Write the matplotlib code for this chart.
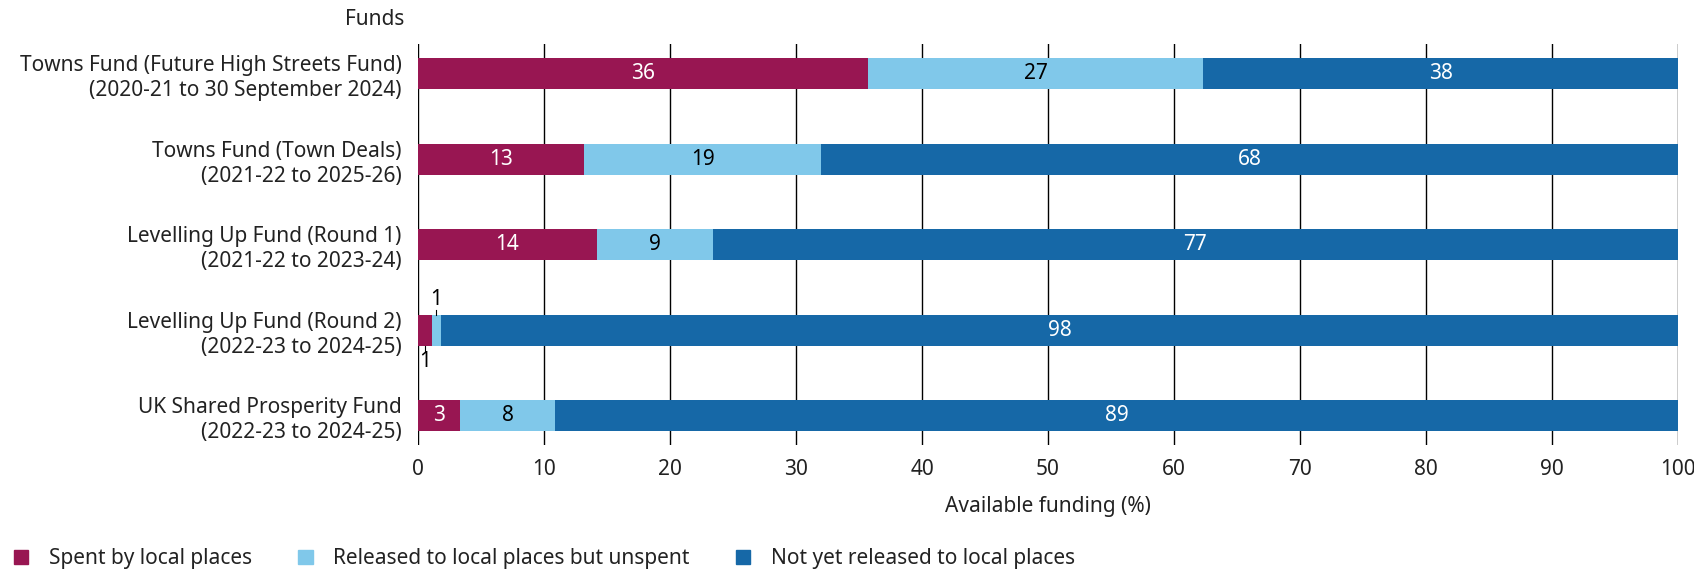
import matplotlib.pyplot as plt
from matplotlib.patches import Patch

plt.rcParams['font.family'] = ['Noto Sans', 'DejaVu Sans']

funds = [
    "Towns Fund (Future High Streets Fund)\n(2020-21 to 30 September 2024)",
    "Towns Fund (Town Deals)\n(2021-22 to 2025-26)",
    "Levelling Up Fund (Round 1)\n(2021-22 to 2023-24)",
    "Levelling Up Fund (Round 2)\n(2022-23 to 2024-25)",
    "UK Shared Prosperity Fund\n(2022-23 to 2024-25)",
]
spent = [35.7, 13.2, 14.2, 1.1, 3.3]
released = [26.6, 18.8, 9.2, 0.7, 7.6]
not_released = [37.7, 68.0, 76.6, 98.2, 89.1]

series_names = ["Spent by local places", "Released to local places but unspent",
                "Not yet released to local places"]
colours = ["#981652", "#80C8EA", "#1668A7"]
label_colours = ["white", "black", "white"]

fs = 15
txt = '#222222'

fig = plt.figure(figsize=(16.94, 5.71), dpi=100)
ax = fig.add_axes([0.2468, 0.221, 0.7438, 0.702])

y = list(range(len(funds)))
left = [0.0] * len(funds)
for vals, col, tcol in zip([spent, released, not_released], colours, label_colours):
    bars = ax.barh(y, vals, left=left, color=col, height=0.36, zorder=3)
    for i, v in enumerate(vals):
        if v >= 2:
            ax.text(left[i] + v / 2, i, f"{v:.0f}", ha='center', va='center',
                    color=tcol, fontsize=fs, fontweight='semibold', zorder=4)
    left = [l + v for l, v in zip(left, vals)]

# small segments on the Round 2 bar: labels outside with leader lines
i = 3
x_sp = spent[i] / 2
x_rel = spent[i] + released[i] / 2
ax.plot([x_rel, x_rel], [i - 0.18, i - 0.24], color='black', lw=0.8, zorder=4)
ax.text(x_rel, i - 0.24, "1", ha='center', va='bottom', fontsize=fs,
        fontweight='semibold')
ax.plot([x_sp, x_sp], [i + 0.18, i + 0.24], color='black', lw=0.8, zorder=4)
ax.text(x_sp, i + 0.24, f"{spent[i]:.0f}", ha='center', va='top',
        fontsize=fs, fontweight='semibold')

ax.set_xlim(0, 100)
ax.set_ylim(len(funds) - 1 + 0.34, -0.35)
ax.set_xticks(range(0, 101, 10))
ax.set_yticks(y)
ax.set_yticklabels(funds, fontsize=fs, color=txt, linespacing=1.25)
ax.tick_params(axis='both', length=0, labelsize=fs, labelcolor=txt)
ax.tick_params(axis='x', pad=10)
ax.tick_params(axis='y', pad=12)
for s in ax.spines.values():
    s.set_visible(False)
ax.grid(axis='x', color='black', linewidth=1, zorder=0)
ax.set_xlabel("Available funding (%)", fontsize=fs, color=txt, labelpad=12)

fig.text(0.2385, 0.965, "Funds", ha='right', va='center', fontsize=fs, color=txt)

handles = [Patch(color=c) for c in colours]
fig.legend(handles, series_names, loc='lower left', bbox_to_anchor=(-0.003, -0.03),
           ncol=3, frameon=False, fontsize=fs, handlelength=0.7, handleheight=0.7,
           columnspacing=2.2, handletextpad=1.0, labelcolor=txt)

fig.savefig("out.png", dpi=100)
